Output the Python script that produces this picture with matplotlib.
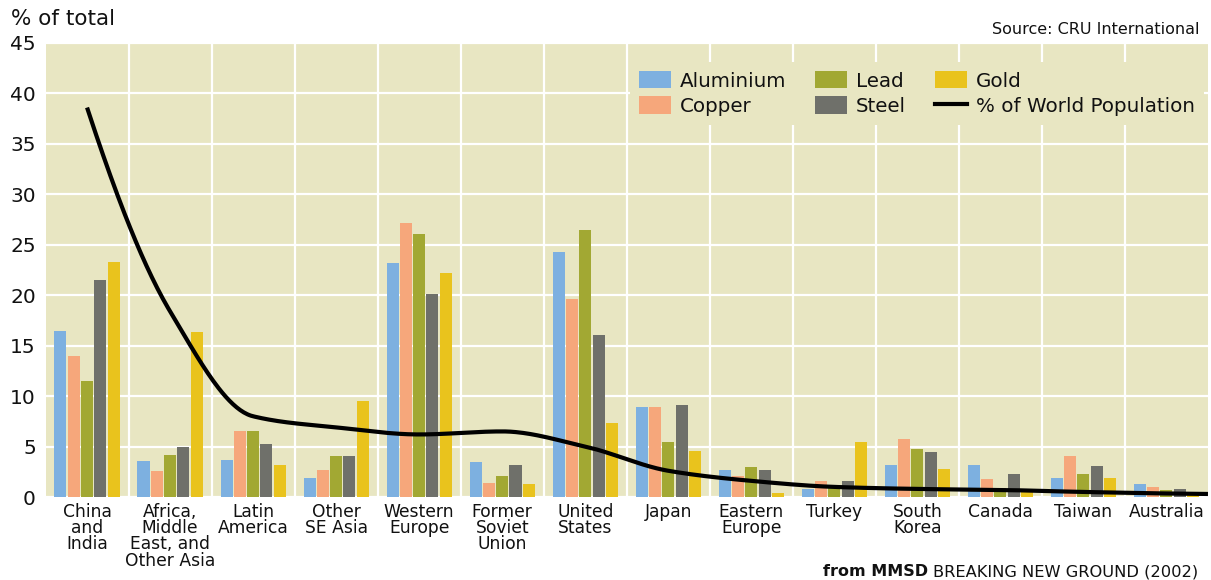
import numpy as np
import matplotlib
matplotlib.use("Agg")
import matplotlib.pyplot as plt
from matplotlib.patches import Patch
from matplotlib.lines import Line2D

plt.rcParams['font.family'] = ['DejaVu Sans']

regions = ["China\nand\nIndia", "Africa,\nMiddle\nEast, and\nOther Asia", "Latin\nAmerica",
           "Other\nSE Asia", "Western\nEurope", "Former\nSoviet\nUnion", "United\nStates",
           "Japan", "Eastern\nEurope", "Turkey", "South\nKorea", "Canada", "Taiwan", "Australia"]

aluminium = [16.5, 3.6, 3.7, 1.9, 23.2, 3.5, 24.3, 8.9, 2.7, 0.8, 3.2, 3.2, 1.9, 1.3]
copper    = [14.0, 2.6, 6.5, 2.7, 27.2, 1.4, 19.6, 8.9, 2.1, 1.6, 5.7, 1.8, 4.1, 1.0]
lead      = [11.5, 4.2, 6.5, 4.1, 26.1, 2.1, 26.5, 5.5, 3.0, 0.9, 4.8, 0.9, 2.3, 0.7]
steel     = [21.5, 5.0, 5.3, 4.1, 20.1, 3.2, 16.1, 9.1, 2.7, 1.6, 4.5, 2.3, 3.1, 0.8]
gold      = [23.3, 16.4, 3.2, 9.5, 22.2, 1.3, 7.3, 4.6, 0.4, 5.5, 2.8, 0.5, 1.9, 0.3]
population = [38.6, 18.4, 8.0, 6.9, 6.2, 6.5, 5.0, 2.6, 1.6, 1.0, 0.8, 0.7, 0.5, 0.35]

series_names = ["Aluminium", "Copper", "Lead", "Steel", "Gold"]
series = [aluminium, copper, lead, steel, gold]
colors = ["#7DB0E0", "#F6A77B", "#A2A833", "#6F706A", "#E9C31D"]
bg = "#E8E6C2"
txt = "#111111"


def pchip(x, y, xs):
    x = np.asarray(x, float); y = np.asarray(y, float)
    h = np.diff(x); d = np.diff(y) / h
    n = len(x); m = np.zeros(n)
    for k in range(1, n - 1):
        if d[k - 1] * d[k] > 0:
            w1 = 2 * h[k] + h[k - 1]; w2 = h[k] + 2 * h[k - 1]
            m[k] = (w1 + w2) / (w1 / d[k - 1] + w2 / d[k])
    def endslope(h0, h1, d0, d1):
        s = ((2 * h0 + h1) * d0 - h0 * d1) / (h0 + h1)
        if np.sign(s) != np.sign(d0):
            s = 0.0
        elif np.sign(d0) != np.sign(d1) and abs(s) > abs(3 * d0):
            s = 3 * d0
        return s
    m[0] = endslope(h[0], h[1], d[0], d[1])
    m[-1] = endslope(h[-1], h[-2], d[-1], d[-2])
    idx = np.clip(np.searchsorted(x, xs) - 1, 0, n - 2)
    t = (xs - x[idx]) / h[idx]
    h00 = 2 * t**3 - 3 * t**2 + 1; h10 = t**3 - 2 * t**2 + t
    h01 = -2 * t**3 + 3 * t**2; h11 = t**3 - t**2
    return h00 * y[idx] + h10 * h[idx] * m[idx] + h01 * y[idx + 1] + h11 * h[idx] * m[idx + 1]


fig = plt.figure(figsize=(12.11, 5.80), dpi=100)
ax = fig.add_axes([0.0376, 0.1431, 0.9599, 0.7828])
ax.set_facecolor(bg)

n = len(regions)
xg = np.arange(n)
pitch, width = 0.16, 0.145
for j, (vals, c) in enumerate(zip(series, colors)):
    ax.bar(xg + (j - 2) * pitch, vals, width=width, color=c, zorder=2, linewidth=0)

xs = np.linspace(0, n - 1, 600)
ys = pchip(xg, population, xs)
xs = np.append(xs, n - 0.5)
ys = np.append(ys, population[-1] - 0.05)
ax.plot(xs, ys, color="black", lw=3, zorder=3, solid_capstyle="butt")

ax.set_xlim(-0.5, n - 0.5)
ax.set_ylim(0, 45)
ax.set_yticks(np.arange(0, 46, 5))
ax.set_xticks(xg)
ax.set_xticklabels(regions, fontsize=12.3, linespacing=0.88, color=txt)
ax.set_xticks(np.arange(0.5, n - 0.5, 1), minor=True)
ax.tick_params(axis="x", which="both", length=0, pad=4)
ax.tick_params(axis="y", length=0, pad=7, labelsize=14.5, labelcolor=txt)
ax.grid(axis="y", which="major", color="white", lw=1.6, zorder=1)
ax.grid(axis="x", which="minor", color="white", lw=1.6, zorder=1)
ax.grid(axis="x", which="major", visible=False)
ax.set_axisbelow(True)
for s in ax.spines.values():
    s.set_visible(False)

handles = [
    Patch(facecolor=colors[0], label="Aluminium"),
    Patch(facecolor=colors[1], label="Copper"),
    Patch(facecolor=colors[2], label="Lead"),
    Patch(facecolor=colors[3], label="Steel"),
    Patch(facecolor=colors[4], label="Gold"),
    Line2D([0], [0], color="black", lw=3, label="% of World Population"),
]
leg = ax.legend(handles=handles, ncol=3, loc="upper left",
                bbox_to_anchor=(630 / 1211, 1 - 62 / 580), bbox_transform=fig.transFigure,
                frameon=True, facecolor=bg, edgecolor="none", framealpha=1, fancybox=False,
                fontsize=14.3, handlelength=1.6, handleheight=0.98, handletextpad=0.46,
                columnspacing=1.45, labelspacing=0.3, borderpad=0.45, borderaxespad=0)
for t in leg.get_texts():
    t.set_color(txt)

fig.text(11 / 1211, 1 - 19 / 580, "% of total", fontsize=15.5, ha="left", va="center", color=txt)
fig.text(1199 / 1211, 1 - 29 / 580, "Source: CRU International", fontsize=11.5,
         ha="right", va="center", color=txt)

t2 = fig.text(1198 / 1211, 1 - 572 / 580, "BREAKING NEW GROUND (2002)", fontsize=11.7,
              ha="right", va="center", color=txt)
fig.canvas.draw()
bb = t2.get_window_extent()
fig.text((bb.x0 - 5) / 1211, 1 - 572 / 580, "from MMSD", fontsize=11.5, fontweight="bold",
         ha="right", va="center", color=txt)

fig.savefig("out.png", dpi=100)
